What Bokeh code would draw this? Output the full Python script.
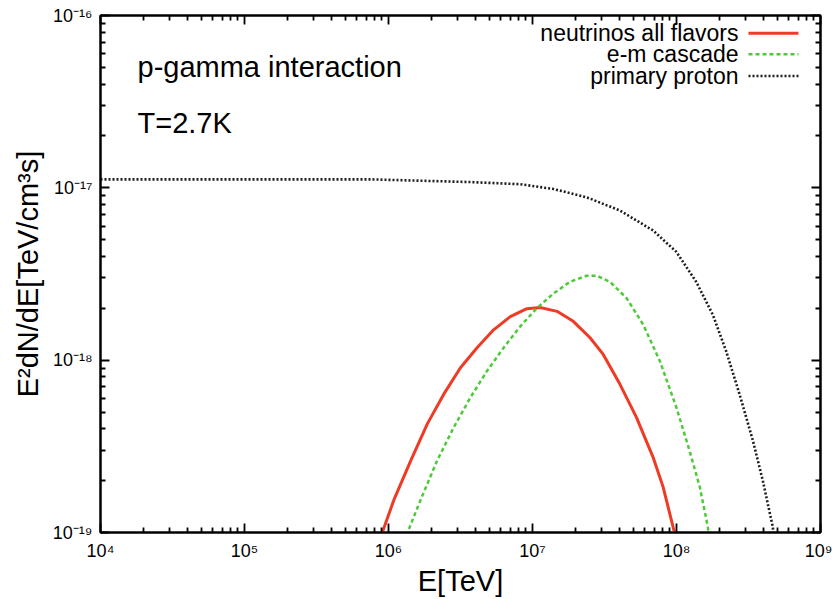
from bokeh.plotting import figure
from bokeh.models import Range1d, FixedTicker, CustomJSTickFormatter, LogAxis, Label
from bokeh.embed import file_html
from bokeh.resources import INLINE

# ---- data ----
nu_E = [8.9e5, 1.09e6, 1.43e6, 1.86e6, 2.42e6, 3.16e6, 4.12e6, 5.37e6, 7.01e6, 9.14e6,
        1.13e7, 1.48e7, 1.92e7, 2.51e7, 3.10e7, 4.05e7, 5.27e7, 6.87e7, 8.07e7, 9.46e7, 9.8e7]
nu_flux = [0.96e-19, 1.545e-19, 2.62e-19, 4.27e-19, 6.35e-19, 9.04e-19, 1.18e-18, 1.50e-18, 1.79e-18, 1.99e-18,
           2.02e-18, 1.92e-18, 1.68e-18, 1.35e-18, 1.08e-18, 7.24e-19, 4.66e-19, 2.74e-19, 1.84e-19, 1.08e-19, 0.96e-19]

em_E = [1.33e6, 1.67e6, 2.18e6, 2.84e6, 3.71e6, 4.83e6, 6.30e6, 8.22e6, 1.07e7, 1.40e7, 1.82e7,
        2.38e7, 2.79e7, 3.45e7, 4.50e7, 5.87e7, 7.66e7, 9.98e7, 1.23e8, 1.45e8, 1.65e8, 1.68e8]
em_flux = [0.96e-19, 1.545e-19, 2.62e-19, 4.08e-19, 6.08e-19, 8.65e-19, 1.18e-18, 1.57e-18, 2.00e-18, 2.44e-18, 2.85e-18,
           3.09e-18, 3.09e-18, 2.85e-18, 2.29e-18, 1.61e-18, 9.89e-19, 5.32e-19, 3.0e-19, 1.84e-19, 1.08e-19, 0.96e-19]

p_E = [1e4, 1e5, 7.5e5, 3.71e6, 8.22e6, 1.40e7, 2.38e7, 4.05e7, 6.87e7, 9.98e7,
       1.37e8, 1.79e8, 2.21e8, 2.74e8, 3.39e8, 3.97e8, 4.66e8, 4.73e8]
p_flux = [1.12e-17, 1.12e-17, 1.12e-17, 1.08e-17, 1.05e-17, 9.84e-18, 8.81e-18, 7.38e-18, 5.66e-18, 4.25e-18,
          2.85e-18, 1.83e-18, 1.13e-18, 6.35e-19, 3.42e-19, 2.01e-19, 1.08e-19, 0.96e-19]

x_tick_exps = [4, 5, 6, 7, 8, 9]
x_tick_labels = ["10⁴", "10⁵", "10⁶", "10⁷", "10⁸", "10⁹"]
y_tick_exps = [-19, -18, -17, -16]
y_tick_labels = ["10⁻¹⁹", "10⁻¹⁸", "10⁻¹⁷", "10⁻¹⁶"]

series_names = ["neutrinos all flavors", "e-m cascade", "primary proton"]
notes = ["p-gamma interaction", "T=2.7K"]
x_title = "E[TeV]"
y_title = "E²dN/dE[TeV/cm³s]"

FONT = "Liberation Sans"
RED = "#ee3b26"
GREEN = "#4ec93a"
BLACK = "#1c1c1c"

W, H = 832, 599
B_LEFT, B_RIGHT, B_TOP, B_BOTTOM = 100, 12, 15, 63
X_LO, X_HI, Y_LO, Y_HI = 1e4, 1e9, 1e-19, 1e-16
MAJOR_LEN, MINOR_LEN = 9, 5

p = figure(width=W, height=H, x_axis_type="log", y_axis_type="log",
           x_range=Range1d(X_LO, X_HI), y_range=Range1d(Y_LO, Y_HI),
           output_backend="svg", toolbar_location=None,
           min_border_left=B_LEFT, min_border_right=B_RIGHT,
           min_border_top=B_TOP, min_border_bottom=B_BOTTOM)
p.grid.visible = False
p.outline_line_color = "black"
p.outline_line_width = 2
p.background_fill_color = "white"
p.border_fill_color = "white"


def major_ticks(exps):
    return [10.0 ** e for e in exps]


def minor_ticks(exps):
    return [k * 10.0 ** e for e in exps[:-1] for k in range(2, 10)]


def make_formatter(exps, labels, show):
    return CustomJSTickFormatter(args=dict(exps=exps, labels=labels, show=show), code="""
        const e = Math.round(Math.log10(tick));
        if (!show) return "";
        const i = exps.indexOf(e);
        return i >= 0 ? labels[i] : "";
    """)


def style_axis(ax, exps, labels, show):
    ax.ticker = FixedTicker(ticks=major_ticks(exps), minor_ticks=minor_ticks(exps))
    ax.formatter = make_formatter(exps, labels, show)
    ax.axis_line_color = "black"
    ax.axis_line_width = 2
    ax.major_tick_in = MAJOR_LEN
    ax.major_tick_out = 0
    ax.minor_tick_in = MINOR_LEN
    ax.minor_tick_out = 0
    ax.major_tick_line_color = "black"
    ax.minor_tick_line_color = "black"
    ax.major_tick_line_width = 1.8
    ax.minor_tick_line_width = 1.8
    ax.major_label_text_font = FONT
    ax.major_label_text_color = "black"
    if show:
        ax.major_label_text_font_size = "18px"
        ax.major_label_standoff = 8
    else:
        ax.major_label_text_font_size = "0px"
        ax.major_label_standoff = 0


style_axis(p.xaxis[0], x_tick_exps, x_tick_labels, True)
style_axis(p.yaxis[0], y_tick_exps, y_tick_labels, True)
p.xaxis[0].axis_label = x_title
p.yaxis[0].axis_label = y_title
for ax in (p.xaxis[0], p.yaxis[0]):
    ax.axis_label_text_font = FONT
    ax.axis_label_text_font_size = "29px"
    ax.axis_label_text_font_style = "normal"
    ax.axis_label_text_color = "black"
p.xaxis[0].axis_label_standoff = 1
p.yaxis[0].axis_label_standoff = 6

# mirrored inward ticks on the top and right edges
top_ax = LogAxis()
style_axis(top_ax, x_tick_exps, x_tick_labels, False)
p.add_layout(top_ax, "above")
right_ax = LogAxis()
style_axis(right_ax, y_tick_exps, y_tick_labels, False)
p.add_layout(right_ax, "right")

# ---- curves ----
p.line(nu_E, nu_flux, line_color=RED, line_width=3)
p.line(em_E, em_flux, line_color=GREEN, line_width=2.5, line_dash="4 3")
p.line(p_E, p_flux, line_color=BLACK, line_width=2.6, line_dash="2 2")

# ---- annotations ----
p.add_layout(Label(x=10 ** 4.257, y=10 ** -16.299, text=notes[0], text_font=FONT,
                   text_font_size="29px", text_color="black", text_baseline="alphabetic"))
p.add_layout(Label(x=10 ** 4.257, y=10 ** -16.622, text=notes[1], text_font=FONT,
                   text_font_size="29px", text_color="black", text_baseline="alphabetic"))

# ---- legend (text right-aligned, key sample on the right, gnuplot style) ----
leg_text_x = 10 ** 8.4306
leg_key_x0 = 10 ** 8.50
leg_key_x1 = 10 ** 8.847
leg_rows = [10 ** -16.1036, 10 ** -16.2245, 10 ** -16.3512]
styles = [dict(line_color=RED, line_width=3),
          dict(line_color=GREEN, line_width=2.5, line_dash="4 3"),
          dict(line_color=BLACK, line_width=2.6, line_dash="2 2")]
for name, yrow, st in zip(series_names, leg_rows, styles):
    p.add_layout(Label(x=leg_text_x, y=yrow, text=name, text_font=FONT, text_font_size="23px",
                       text_color="black", text_align="right", text_baseline="middle"))
    p.line([leg_key_x0, leg_key_x1], [yrow, yrow], **st)

open("out.html", "w").write(file_html(p, INLINE))
